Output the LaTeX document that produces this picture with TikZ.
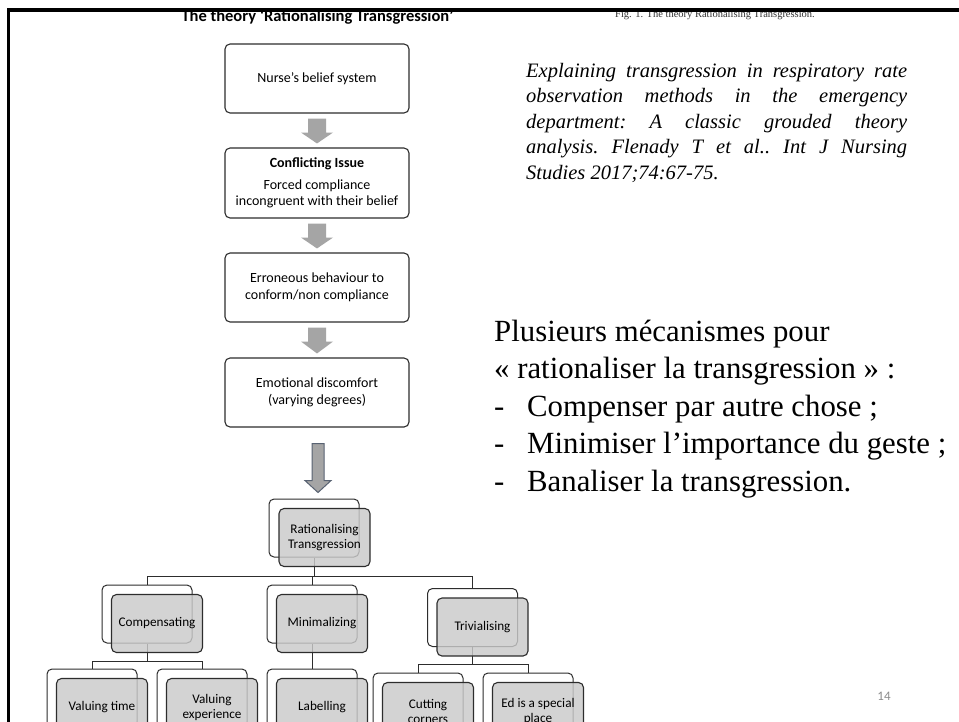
\documentclass[tikz,border=0pt]{standalone}
\usepackage{fontspec}
\setmainfont{Liberation Serif}
\newfontfamily\calib{Carlito}
\usetikzlibrary{calc}

\definecolor{arrowgray}{RGB}{165,165,165}
\definecolor{smartfill}{RGB}{202,202,202}
\definecolor{edge}{RGB}{45,45,45}
\definecolor{bigarrowline}{RGB}{88,98,114}
\definecolor{pagenum}{RGB}{140,140,140}

% gray block arrow from the bottom of one box to the top of the next
\newcommand\flowarrow[2]{%
  \fill[arrowgray] ($(#1.south)+(-9,5)$) -- ($(#1.south)+(9,5)$) -- ($(#1.south)+(9,19)$)
    -- ($(#1.south)+(16,19)$) -- ($(#2.north)+(0,-4)$) -- ($(#1.south)+(-16,19)$)
    -- ($(#1.south)+(-9,19)$) -- cycle;}

\begin{document}
\begin{tikzpicture}[x=1pt,y=-1pt,
  flowbox/.style={draw=edge, line width=1.1pt, rounded corners=5pt,
    minimum width=184pt, minimum height=69pt, inner sep=2pt, align=center,
    font=\calib\fontsize{14}{16.5}\selectfont},
  backbox/.style={draw=edge, line width=1pt, rounded corners=5pt, fill=white,
    minimum width=90pt, minimum height=58pt, inner sep=0pt},
  frontbox/.style={draw=edge, line width=1.1pt, rounded corners=5pt,
    fill=smartfill, fill opacity=0.82, text opacity=1,
    minimum width=91pt, minimum height=58pt, inner sep=0pt, align=center,
    font=\calib\fontsize{13.2}{14.5}\selectfont},
  link/.style={draw=edge, line width=1pt},
  bigarrow/.style={fill=arrowgray, draw=bigarrowline, line width=1pt, line join=miter},
  bullettext/.style={anchor=base west, inner sep=0pt, font=\fontsize{30.8}{36}\selectfont},
]
\useasboundingbox (0,0) rectangle (959,721);
\clip (0,0) rectangle (959,721);
\fill[white] (0,0) rectangle (959,721);

% headings at the top edge
\node[font=\calib\bfseries\fontsize{16.5}{18}\selectfont, anchor=base] (title)
  at (317.5,21) {The theory ‘Rationalising Transgression’};
\node[font=\fontsize{10.5}{12}\selectfont, text=black!80, anchor=base] (figcap)
  at (715,17.5) {Fig. 1. The theory Rationalising Transgression.};
\draw[line width=3.8pt, line join=miter] (8.5,730) -- (8.5,10) -- (965,10);

% vertical flow
\node[flowbox] (belief) at (317,78.5) {Nurse’s belief system};
\node[flowbox, minimum height=70pt] (conflict) at (317,183)
  {\textbf{Conflicting Issue}\\[5pt]Forced compliance\\incongruent with their belief};
\node[flowbox] (erroneous) at (317,287.5) {Erroneous behaviour to\\conform/non compliance};
\node[flowbox] (discomfort) at (317,392.5) {Emotional discomfort\\(varying degrees)};

\flowarrow{belief}{conflict}
\flowarrow{conflict}{erroneous}
\flowarrow{erroneous}{discomfort}

% hierarchy: outline boxes behind
\node[backbox] (rtB)   at (314,528) {};
\node[backbox] (compB) at (147,614) {};
\node[backbox] (minB)  at (312,614) {};
\node[backbox] (trivB) at (472.5,617.5) {};
\node[backbox] (vtB)   at (92,698) {};
\node[backbox] (veB)   at (202,698) {};
\node[backbox] (labB)  at (312,698) {};
\node[backbox] (cutB)  at (418,702) {};
\node[backbox] (edB)   at (528,702) {};

\draw[bigarrow] ($(discomfort.south)+(-5,16)$) -- ($(discomfort.south)+(7,16)$)
  -- ($(discomfort.south)+(7,53)$) -- ($(discomfort.south)+(14,53)$)
  -- ($(discomfort.south |- rtB.north)+(1,-6)$) -- ($(discomfort.south)+(-12,53)$)
  -- ($(discomfort.south)+(-5,53)$) -- cycle;

% connectors
\coordinate (busTop)  at (0,576);
\coordinate (busComp) at (0,661);
\coordinate (busTriv) at (0,664);
\draw[link] (rtB.south) -- (rtB.south |- busTop) -| (compB.north);
\draw[link] (rtB.south |- busTop) -| (trivB.north);
\draw[link] (rtB.south |- busTop) -| (minB.north);
\draw[link] (compB.south) -- (compB.south |- busComp) -| (vtB.north);
\draw[link] (compB.south |- busComp) -| (veB.north);
\draw[link] (minB.south) -- (labB.north);
\draw[link] (trivB.south) -- (trivB.south |- busTriv) -| (cutB.north);
\draw[link] (trivB.south |- busTriv) -| (edB.north);

% hierarchy: filled boxes in front
\node[frontbox] (rtF)   at ($(rtB)+(10.5,9.5)$)   {Rationalising\\Transgression};
\node[frontbox] (compF) at ($(compB)+(10,9.5)$)   {Compensating};
\node[frontbox] (minF)  at ($(minB)+(10,9.5)$)    {Minimalizing};
\node[frontbox] (trivF) at ($(trivB)+(10,9.5)$)   {Trivialising};
\node[frontbox] (vtF)   at ($(vtB)+(10,9.5)$)     {Valuing time};
\node[frontbox] (veF)   at ($(veB)+(10,9.5)$)     {Valuing\\experience};
\node[frontbox] (labF)  at ($(labB)+(10,9.5)$)    {Labelling};
\node[frontbox] (cutF)  at ($(cutB)+(10,9.5)$)    {Cutting\\corners};
\node[frontbox] (edF)   at ($(edB)+(10,9.5)$)     {Ed is a special\\place};

% reference
\node[anchor=base west, inner sep=0pt, font=\itshape\fontsize{20.5}{25.5}\selectfont]
  (cite) at (526,77) {\parbox[t]{381pt}{\frenchspacing\hyphenpenalty=10000
  Explaining transgression in respiratory rate\linebreak
  observation methods in the emergency\linebreak
  department: A classic grouded theory\linebreak
  analysis. Flenady T et al.. Int J Nursing\linebreak
  Studies 2017;74:67-75.}};

% summary
\node[bullettext] (b1) at (494,341) {Plusieurs mécanismes pour};
\node[bullettext] (b2) at (494,378.5) {« rationaliser la transgression » :};
\node[bullettext] (b3) at (494,416) {\makebox[33pt][l]{-}Compenser par autre chose ;};
\node[bullettext] (b4) at (494,453.5) {\makebox[33pt][l]{-}Minimiser l’importance du geste ;};
\node[bullettext] (b5) at (494,491) {\makebox[33pt][l]{-}Banaliser la transgression.};

\node[font=\calib\fontsize{13}{15}\selectfont, text=pagenum, anchor=base] (pnum)
  at (884,700) {14};
\end{tikzpicture}
\end{document}
